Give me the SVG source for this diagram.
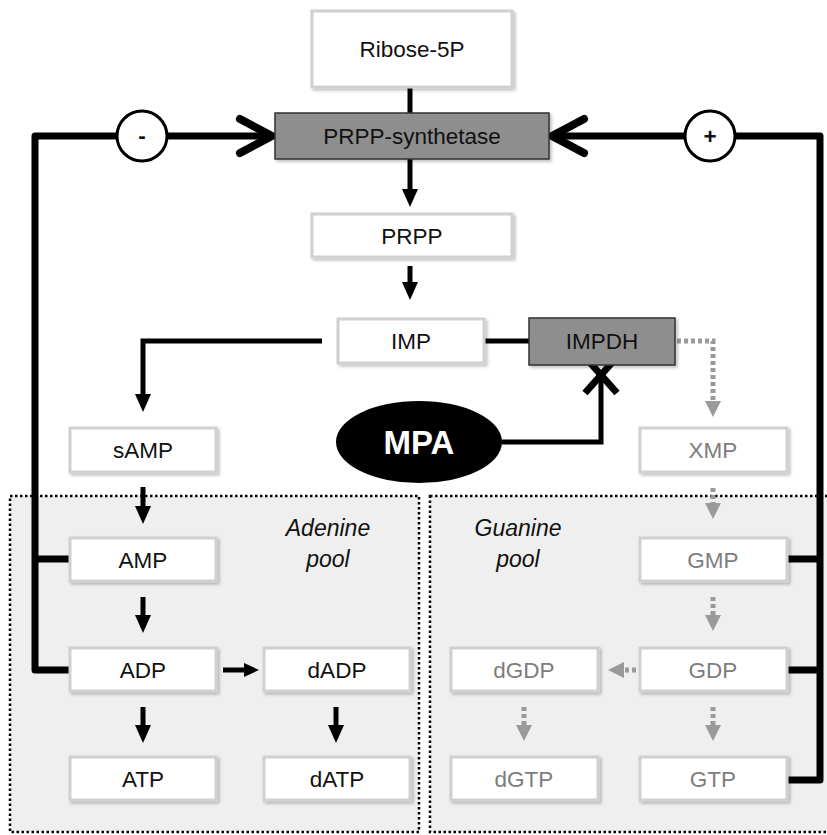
<svg xmlns="http://www.w3.org/2000/svg" width="827" height="835" viewBox="0 0 827 835">
<style>
.box{fill:#ffffff;stroke:#d0d0d0;stroke-width:3}
.enz{fill:#8e8e8e;stroke:#333333;stroke-width:1.5}
.t{font-family:"Liberation Sans",Arial,sans-serif;font-size:22.5px;text-anchor:middle;fill:#111111}
.g{fill:#7d7d7d}
.pool{fill:#efefef;stroke:#000000;stroke-width:2.5;stroke-dasharray:2.5 2.5}
.pl{font-family:"Liberation Sans",Arial,sans-serif;font-size:23px;font-style:italic;text-anchor:middle;fill:#111111}
.c{fill:none;stroke:#000000;stroke-width:5}
.fb{fill:none;stroke:#000000;stroke-width:7;stroke-linejoin:round}
.gd{fill:none;stroke:#9a9a9a;stroke-width:5;stroke-dasharray:4 3}
.sh{filter:url(#shadow)}
</style>
<defs>
<filter id="shadow" x="-10%" y="-10%" width="130%" height="140%">
<feDropShadow dx="2" dy="2" stdDeviation="1.5" flood-color="#000000" flood-opacity="0.25"/>
</filter>
<marker id="ah" markerUnits="userSpaceOnUse" markerWidth="18" markerHeight="18" viewBox="0 0 18 18" refX="0" refY="9" orient="auto">
<path d="M0,1 L18,9 L0,17 z" fill="#000000"/>
</marker>
<marker id="ahs" markerUnits="userSpaceOnUse" markerWidth="15" markerHeight="16" viewBox="0 0 15 16" refX="0" refY="8" orient="auto">
<path d="M0,1 L15,8 L0,15 z" fill="#000000"/>
</marker>
<marker id="ag" markerUnits="userSpaceOnUse" markerWidth="18" markerHeight="18" viewBox="0 0 18 18" refX="0" refY="9" orient="auto">
<path d="M0,1 L16,9 L0,17 z" fill="#9a9a9a"/>
</marker>
</defs>

<g id="pools">
<rect id="adenine-pool" class="pool" x="10" y="496" width="409" height="336"/>
<rect id="guanine-pool" class="pool" x="430" y="496" width="410" height="336"/>
<text class="pl" x="328" y="536">Adenine</text>
<text class="pl" x="328" y="567">pool</text>
<text class="pl" x="518" y="536">Guanine</text>
<text class="pl" x="518" y="567">pool</text>
</g>

<g id="connectors">
<line class="c" x1="410" y1="87" x2="410" y2="113"/>
<line class="c" x1="410" y1="159" x2="410" y2="189" marker-end="url(#ah)"/>
<line class="c" x1="410" y1="266" x2="410" y2="282" marker-end="url(#ah)"/>
<path class="c" d="M322,341 H143 V394" marker-end="url(#ah)"/>
<line class="c" x1="484" y1="341" x2="529" y2="341"/>
<path class="gd" d="M677,341 H713 V401" marker-end="url(#ag)"/>
<path class="c" d="M502,442 H601 V380"/>
<g id="block">
<line x1="585" y1="357" x2="617" y2="393" stroke="#000000" stroke-width="7"/>
<line x1="617" y1="357" x2="585" y2="393" stroke="#000000" stroke-width="7"/>
</g>
<line class="c" x1="143" y1="487" x2="143" y2="506" marker-end="url(#ah)"/>
<line class="c" x1="143" y1="597" x2="143" y2="615" marker-end="url(#ah)"/>
<line class="c" x1="143" y1="707" x2="143" y2="725" marker-end="url(#ah)"/>
<line class="c" x1="336" y1="707" x2="336" y2="725" marker-end="url(#ah)"/>
<line class="c" x1="223" y1="670" x2="244" y2="670" marker-end="url(#ahs)"/>
<line class="gd" x1="713" y1="488" x2="713" y2="503" marker-end="url(#ag)"/>
<line class="gd" x1="713" y1="597" x2="713" y2="615" marker-end="url(#ag)"/>
<line class="gd" x1="713" y1="707" x2="713" y2="725" marker-end="url(#ag)"/>
<line class="gd" x1="524" y1="707" x2="524" y2="725" marker-end="url(#ag)"/>
<line class="gd" x1="636" y1="670" x2="624" y2="670" marker-end="url(#ag)"/>

<path class="fb" d="M70,670 H35 V136 H268"/>
<line class="fb" x1="35" y1="559" x2="70" y2="559"/>
<polyline points="240,119 272,136 240,153" fill="none" stroke="#000000" stroke-width="8" stroke-linecap="round" stroke-linejoin="miter"/>
<path class="fb" d="M787,780 H820 V136 H556"/>
<line class="fb" x1="787" y1="559" x2="820" y2="559"/>
<line class="fb" x1="787" y1="670" x2="820" y2="670"/>
<polyline points="584,119 552,136 584,153" fill="none" stroke="#000000" stroke-width="8" stroke-linecap="round" stroke-linejoin="miter"/>
<g id="minus">
<circle cx="142" cy="136" r="25" fill="#ffffff" stroke="#000000" stroke-width="3"/>
<text class="t" x="142" y="143" style="font-weight:bold">-</text>
</g>
<g id="plus">
<circle cx="710" cy="136" r="25" fill="#ffffff" stroke="#000000" stroke-width="3"/>
<text class="t" x="710" y="144" style="font-weight:bold">+</text>
</g>
</g>

<g id="ribose5p"><rect class="box sh" x="312" y="11" width="200" height="76"/><text class="t" x="412" y="57">Ribose-5P</text></g>
<g id="prpp-synthetase"><rect class="enz sh" x="275" y="113" width="274" height="46"/><text class="t" x="412" y="144">PRPP-synthetase</text></g>
<g id="prpp"><rect class="box sh" x="312" y="214" width="200" height="43"/><text class="t" x="412" y="244">PRPP</text></g>
<g id="imp"><rect class="box sh" x="338" y="319" width="146" height="44"/><text class="t" x="411" y="349">IMP</text></g>
<g id="impdh"><rect class="enz sh" x="529" y="318" width="146" height="47"/><text class="t" x="602" y="349">IMPDH</text></g>
<g id="mpa"><ellipse cx="419" cy="442" rx="83" ry="41" fill="#000000"/><text x="419" y="454" style="font-family:'Liberation Sans',Arial,sans-serif;font-size:33px;font-weight:bold;text-anchor:middle;fill:#ffffff">MPA</text></g>
<g id="samp"><rect class="box sh" x="70" y="428" width="146" height="44"/><text class="t" x="143" y="458">sAMP</text></g>
<g id="xmp"><rect class="box sh" x="640" y="428" width="147" height="44"/><text class="t g" x="713" y="458">XMP</text></g>
<g id="amp"><rect class="box sh" x="70" y="538" width="146" height="43"/><text class="t" x="143" y="568">AMP</text></g>
<g id="gmp"><rect class="box sh" x="640" y="538" width="147" height="43"/><text class="t g" x="713" y="568">GMP</text></g>
<g id="adp"><rect class="box sh" x="70" y="648" width="146" height="43"/><text class="t" x="143" y="678">ADP</text></g>
<g id="dadp"><rect class="box sh" x="264" y="648" width="146" height="43"/><text class="t" x="337" y="678">dADP</text></g>
<g id="dgdp"><rect class="box sh" x="451" y="648" width="147" height="43"/><text class="t g" x="524" y="678">dGDP</text></g>
<g id="gdp"><rect class="box sh" x="640" y="648" width="147" height="43"/><text class="t g" x="713" y="678">GDP</text></g>
<g id="atp"><rect class="box sh" x="70" y="757" width="146" height="43"/><text class="t" x="143" y="787">ATP</text></g>
<g id="datp"><rect class="box sh" x="264" y="757" width="146" height="43"/><text class="t" x="337" y="787">dATP</text></g>
<g id="dgtp"><rect class="box sh" x="451" y="757" width="147" height="43"/><text class="t g" x="524" y="787">dGTP</text></g>
<g id="gtp"><rect class="box sh" x="640" y="757" width="147" height="43"/><text class="t g" x="713" y="787">GTP</text></g>
</svg>
